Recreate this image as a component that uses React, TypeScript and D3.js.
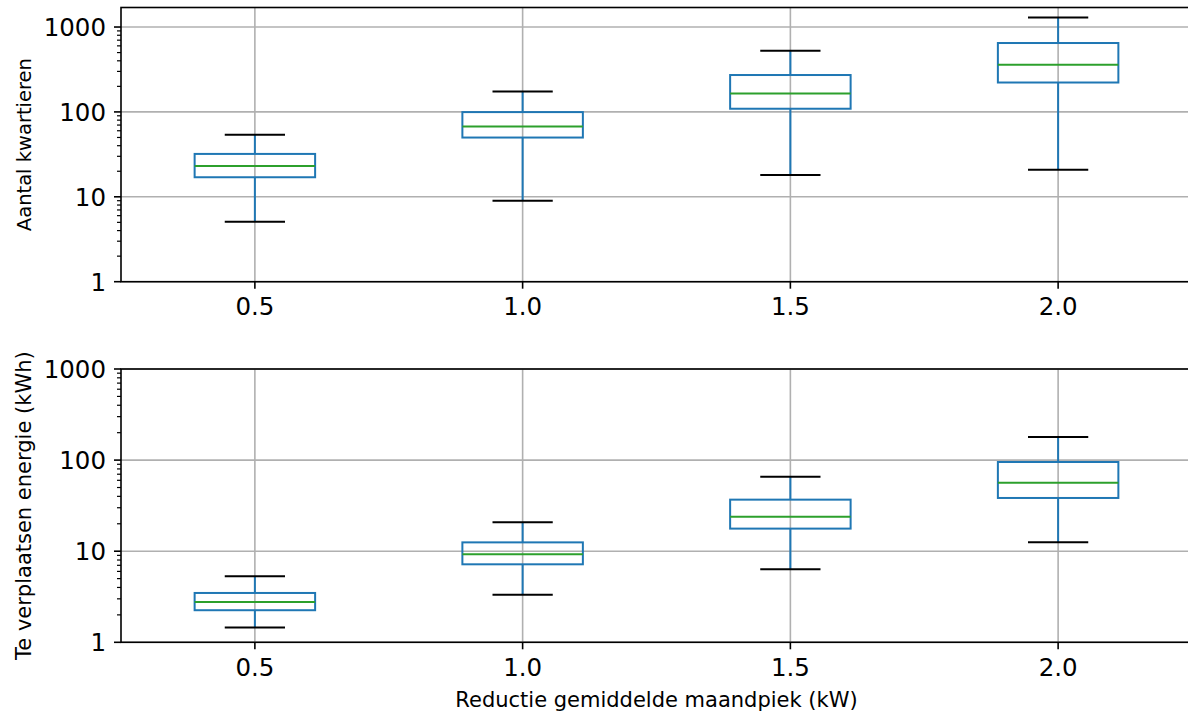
import React from "react";
import * as d3 from "d3";

const categories = ["0.5", "1.0", "1.5", "2.0"];

// Top panel: Aantal kwartieren
const topLow = [5.1, 9.0, 18.1, 20.9];
const topQ1 = [17, 49.9, 109, 222];
const topMedian = [23.1, 67.3, 165, 359];
const topQ3 = [32, 99.5, 272, 648];
const topHigh = [54, 174, 525, 1298];

// Bottom panel: Te verplaatsen energie (kWh)
const botLow = [1.45, 3.33, 6.33, 12.5];
const botQ1 = [2.25, 7.18, 17.7, 38.4];
const botMedian = [2.77, 9.25, 23.9, 56.5];
const botQ3 = [3.48, 12.5, 36.8, 95.3];
const botHigh = [5.3, 20.8, 65.7, 179];

const yTickValues = [1, 10, 100, 1000];

const W = 1188;
const H = 712;
const FONT = "DejaVu Sans, sans-serif";

type PanelProps = {
  top: number;
  bottom: number;
  yMax: number;
  low: number[];
  q1: number[];
  med: number[];
  q3: number[];
  high: number[];
  ylabel: string;
  ylabelSize: number;
};

const x = d3.scaleLinear().domain([0.5, 4.5]).range([121, 1192]);

function Panel(p: PanelProps) {
  const y = d3.scaleLog().domain([1, p.yMax]).range([p.bottom, p.top]);
  const left = x.range()[0];
  const right = x.range()[1];
  const boxW = x(1.45) - x(1);
  const capW = x(1.225) - x(1);
  const minor: number[] = [];
  for (let dec = 1; dec <= 1000; dec *= 10) {
    for (let k = 2; k <= 9; k++) {
      const v = k * dec;
      if (v <= p.yMax) minor.push(v);
    }
  }
  const grid = "#b0b0b0";
  const blue = "#1f77b4";
  const green = "#2ca02c";
  return (
    <g>
      {yTickValues.map((v) => (
        <line key={"gy" + v} x1={left} x2={right} y1={y(v)} y2={y(v)} stroke={grid} strokeWidth={1.6} />
      ))}
      {categories.map((c, i) => (
        <line key={"gx" + c} x1={x(i + 1)} x2={x(i + 1)} y1={p.top} y2={p.bottom} stroke={grid} strokeWidth={1.6} />
      ))}
      {categories.map((c, i) => {
        const cx = x(i + 1);
        return (
          <g key={"b" + c}>
            <line x1={cx} x2={cx} y1={y(p.q1[i])} y2={y(p.low[i])} stroke={blue} strokeWidth={2} />
            <line x1={cx} x2={cx} y1={y(p.q3[i])} y2={y(p.high[i])} stroke={blue} strokeWidth={2} />
            <line x1={cx - capW / 2} x2={cx + capW / 2} y1={y(p.low[i])} y2={y(p.low[i])} stroke="#000" strokeWidth={2} />
            <line x1={cx - capW / 2} x2={cx + capW / 2} y1={y(p.high[i])} y2={y(p.high[i])} stroke="#000" strokeWidth={2} />
            <rect
              x={cx - boxW / 2}
              y={y(p.q3[i])}
              width={boxW}
              height={y(p.q1[i]) - y(p.q3[i])}
              fill="none"
              stroke={blue}
              strokeWidth={2}
            />
            <line x1={cx - boxW / 2} x2={cx + boxW / 2} y1={y(p.med[i])} y2={y(p.med[i])} stroke={green} strokeWidth={2} />
          </g>
        );
      })}
      <rect x={left} y={p.top} width={right - left} height={p.bottom - p.top} fill="none" stroke="#000" strokeWidth={1.6} />
      {yTickValues.filter((v) => v <= p.yMax).map((v) => (
        <g key={"yt" + v}>
          <line x1={left - 7} x2={left} y1={y(v)} y2={y(v)} stroke="#000" strokeWidth={1.6} />
          <text x={left - 15} y={y(v)} dy="0.37em" textAnchor="end" fontSize={24.5} fontFamily={FONT} fill="#000">
            {v}
          </text>
        </g>
      ))}
      {minor.map((v) => (
        <line key={"ym" + v} x1={left - 4} x2={left} y1={y(v)} y2={y(v)} stroke="#000" strokeWidth={1.2} />
      ))}
      {categories.map((c, i) => (
        <g key={"xt" + c}>
          <line x1={x(i + 1)} x2={x(i + 1)} y1={p.bottom} y2={p.bottom + 7} stroke="#000" strokeWidth={1.6} />
          <text x={x(i + 1)} y={p.bottom + 33.5} textAnchor="middle" fontSize={24.5} fontFamily={FONT} fill="#000">
            {c}
          </text>
        </g>
      ))}
      <text
        transform={`translate(${31},${(p.top + p.bottom) / 2}) rotate(-90)`}
        textAnchor="middle"
        fontSize={p.ylabelSize}
        fontFamily={FONT}
        fill="#000"
      >
        {p.ylabel}
      </text>
    </g>
  );
}

export default function App() {
  return (
    <svg
      width={W}
      height={H}
      style={{ position: "absolute", left: 0, top: 0, background: "#fff" }}
    >
      <rect x={0} y={0} width={W} height={H} fill="#fff" />
      <Panel
        top={7.5}
        bottom={281.7}
        yMax={1698}
        low={topLow}
        q1={topQ1}
        med={topMedian}
        q3={topQ3}
        high={topHigh}
        ylabel="Aantal kwartieren"
        ylabelSize={19.5}
      />
      <Panel
        top={369}
        bottom={642.3}
        yMax={1000}
        low={botLow}
        q1={botQ1}
        med={botMedian}
        q3={botQ3}
        high={botHigh}
        ylabel="Te verplaatsen energie (kWh)"
        ylabelSize={21}
      />
      <text x={656.5} y={706.5} textAnchor="middle" fontSize={21} fontFamily={FONT} fill="#000">
        Reductie gemiddelde maandpiek (kW)
      </text>
    </svg>
  );
}
